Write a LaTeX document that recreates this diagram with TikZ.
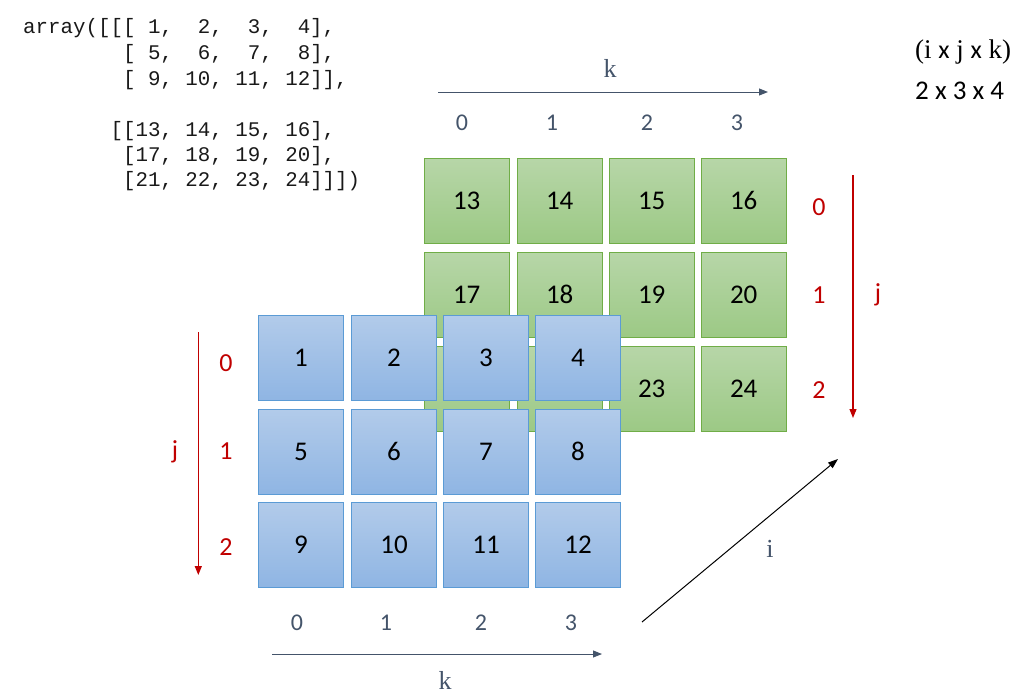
\documentclass[tikz,border=0pt]{standalone}
\usepackage{fontspec}
\setmainfont{Carlito}
\newfontfamily\codefont{Liberation Mono}
\newfontfamily\seriffont{Liberation Serif}
\usetikzlibrary{arrows.meta}
\definecolor{bluetop}{RGB}{178,203,234}
\definecolor{bluebot}{RGB}{143,181,227}
\definecolor{blueedge}{RGB}{91,155,213}
\definecolor{greentop}{RGB}{183,214,168}
\definecolor{greenbot}{RGB}{156,201,133}
\definecolor{greenedge}{RGB}{112,173,71}
\definecolor{slate}{RGB}{68,84,106}
\definecolor{darkred}{RGB}{192,0,0}
\definecolor{codegray}{RGB}{25,25,25}
\begin{document}
\begin{tikzpicture}[x=1pt,y=-1pt,
  cell/.style={minimum width=85.4pt,minimum height=85pt,inner sep=0pt,
    font=\fontsize{27}{27}\selectfont,line width=1pt},
  bluecell/.style={cell,draw=blueedge,top color=bluetop,bottom color=bluebot},
  greencell/.style={cell,draw=greenedge,top color=greentop,bottom color=greenbot},
  codeline/.style={anchor=base west,inner sep=0pt,text=codegray,
    font=\codefont\fontsize{20.8}{20.8}\selectfont},
  idx/.style={text=slate,font=\fontsize{24}{24}\selectfont,inner sep=0pt},
  redidx/.style={text=darkred,font=\fontsize{26}{26}\selectfont,inner sep=0pt},
  axislbl/.style={text=slate,font=\seriffont\fontsize{26}{26}\selectfont,inner sep=0pt},
  slatearrow/.style={draw=slate,line width=1pt,-{Triangle[length=9pt,width=7pt]}},
  redarrow/.style={draw=darkred,line width=1.2pt,-{Triangle[length=9pt,width=7pt]}},
  blackarrow/.style={draw=black,line width=1pt,-{Triangle[length=10pt,width=7pt]}},
  info/.style={anchor=west,inner sep=0pt,text=black}
]
\useasboundingbox (0,0) rectangle (1024,699);

% code listing
\node[codeline] (c1) at (23,33)  {array([[[~1,~~2,~~3,~~4],};
\node[codeline] (c2) at (23,59)  {~~~~~~~~[~5,~~6,~~7,~~8],};
\node[codeline] (c3) at (23,85)  {~~~~~~~~[~9,~10,~11,~12]],};
\node[codeline] (c4) at (23,136) {~~~~~~~[[13,~14,~15,~16],};
\node[codeline] (c5) at (23,161) {~~~~~~~~[17,~18,~19,~20],};
\node[codeline] (c6) at (23,186) {~~~~~~~~[21,~22,~23,~24]]])};

% dims
\node[info,font=\seriffont\fontsize{27}{27}\selectfont] (dimA) at (915,52)
  {(i {\rmfamily\fontsize{26}{26}\selectfont x} j {\rmfamily\fontsize{26}{26}\selectfont x} k)};
\node[info,font=\fontsize{27}{27}\selectfont] (dimB) at (915,91) {2 x 3 x 4};

% green layer (i = 1)
\node[greencell] (g13) at (466.7,200.7) {13};
\node[greencell] (g14) at (559.7,200.7) {14};
\node[greencell] (g15) at (651.7,200.7) {15};
\node[greencell] (g16) at (743.7,200.7) {16};
\node[greencell] (g17) at (466.7,294.7) {17};
\node[greencell] (g18) at (559.7,294.7) {18};
\node[greencell] (g19) at (651.7,294.7) {19};
\node[greencell] (g20) at (743.7,294.7) {20};
\node[greencell] (g21) at (466.7,388.7) {21};
\node[greencell] (g22) at (559.7,388.7) {22};
\node[greencell] (g23) at (651.7,388.7) {23};
\node[greencell] (g24) at (743.7,388.7) {24};

% blue layer (i = 0)
\node[bluecell] (b1)  at (301,357.8) {1};
\node[bluecell] (b2)  at (394,357.8) {2};
\node[bluecell] (b3)  at (486,357.8) {3};
\node[bluecell] (b4)  at (578,357.8) {4};
\node[bluecell] (b5)  at (301,451.8) {5};
\node[bluecell] (b6)  at (394,451.8) {6};
\node[bluecell] (b7)  at (486,451.8) {7};
\node[bluecell] (b8)  at (578,451.8) {8};
\node[bluecell] (b9)  at (301,544.8) {9};
\node[bluecell] (b10) at (394,544.8) {10};
\node[bluecell] (b11) at (486,544.8) {11};
\node[bluecell] (b12) at (578,544.8) {12};

% top k axis
\coordinate (tk0) at (438,92);
\coordinate (tk1) at (768,92);
\draw[slatearrow] (tk0) -- (tk1);
\node[axislbl] (tkl) at (610,68) {k};
\node[idx] (tki0) at (462,123) {0};
\node[idx] (tki1) at (552,123) {1};
\node[idx] (tki2) at (647,123) {2};
\node[idx] (tki3) at (737,123) {3};

% bottom k axis
\coordinate (bk0) at (272,654);
\coordinate (bk1) at (602,654);
\draw[slatearrow] (bk0) -- (bk1);
\node[axislbl] (bkl) at (445,680) {k};
\node[idx] (bki0) at (297,623) {0};
\node[idx] (bki1) at (386,623) {1};
\node[idx] (bki2) at (481,623) {2};
\node[idx] (bki3) at (571,623) {3};

% left j axis
\coordinate (lj0) at (198.3,332);
\coordinate (lj1) at (198.3,575);
\draw[redarrow] (lj0) -- (lj1);
\node[redidx] (lji0) at (226,363) {0};
\node[redidx] (lji1) at (226,451) {1};
\node[redidx] (lji2) at (226,547) {2};
\node[redidx] (ljl) at (175,452) {j};

% right j axis
\coordinate (rj0) at (853,175);
\coordinate (rj1) at (853,418);
\draw[redarrow] (rj0) -- (rj1);
\node[redidx] (rji0) at (819,207) {0};
\node[redidx] (rji1) at (819,295) {1};
\node[redidx] (rji2) at (819,390) {2};
\node[redidx] (rjl) at (878,295) {j};

% i axis
\coordinate (ia0) at (642,622);
\coordinate (ia1) at (838,459);
\draw[blackarrow] (ia0) -- (ia1);
\node[axislbl] (ial) at (770,549) {i};
\end{tikzpicture}
\end{document}
